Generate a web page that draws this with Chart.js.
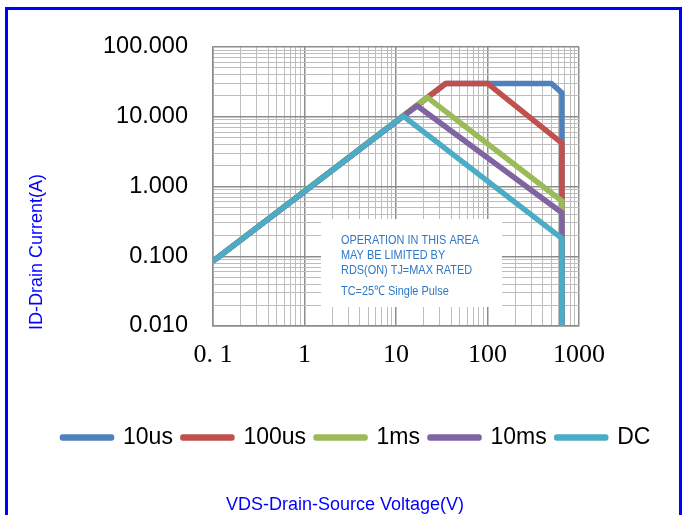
<!DOCTYPE html>
<html>
<head>
<meta charset="utf-8">
<script src="https://cdn.jsdelivr.net/npm/chart.js@4.4.1/dist/chart.umd.min.js"></script>
<style>
  html, body { margin: 0; padding: 0; width: 683px; height: 515px; overflow: hidden; background: #fff; }
  #frame { position: absolute; left: 5px; top: 7px; width: 677px; height: 600px; border: 3px solid #0000ff; box-sizing: border-box; pointer-events: none; }
  canvas { position: absolute; left: 0; top: 0; }
</style>
</head>
<body>
<canvas id="soaChart" width="683" height="515"></canvas>
<div id="frame"></div>
<script>
// Safe operating area, log-log
const seriesNames = ['10us', '100us', '1ms', '10ms', 'DC'];
const seriesColors = ['#4F81BD', '#C0504D', '#9BBB59', '#8064A2', '#4BACC6'];

const vds10us  = [0.1, 35, 500, 650, 650];
const id10us   = [0.085, 30, 30, 22, 0.01];
const vds100us = [0.1, 35, 100, 650, 650];
const id100us  = [0.085, 30, 30, 4.2, 0.01];
const vds1ms   = [0.1, 22, 650, 650];
const id1ms    = [0.085, 19, 0.62, 0.01];
const vds10ms  = [0.1, 17, 650, 650];
const id10ms   = [0.085, 14.4, 0.42, 0.01];
const vdsDC    = [0.1, 12, 650, 650];
const idDC     = [0.085, 10.2, 0.18, 0.01];

const xTickValues = [0.1, 1, 10, 100, 1000];
const xTickLabels = ['0. 1', '1', '10', '100', '1000'];
const yTickValues = [0.01, 0.1, 1, 10, 100];
const yTickLabels = ['0.010', '0.100', '1.000', '10.000', '100.000'];

const noteLines = ['OPERATION IN THIS AREA', 'MAY BE LIMITED BY', 'RDS(ON) TJ=MAX RATED', 'TC=25\u2103 Single Pulse'];

const xs = [vds10us, vds100us, vds1ms, vds10ms, vdsDC];
const ys = [id10us, id100us, id1ms, id10ms, idDC];

function toPoints(xv, yv) {
  return xv.map((x, i) => ({ x: x, y: yv[i] }));
}

// 1..9 x 10^n ticks, like the excel minor grid
function logTicks(majors) {
  const out = [];
  for (let k = 0; k < majors.length - 1; k++) {
    for (let m = 1; m < 10; m++) {
      out.push({ value: parseFloat((majors[k] * m).toPrecision(4)) });
    }
  }
  out.push({ value: majors[majors.length - 1] });
  return out;
}

function isMajor(v, majors) {
  return majors.some(m => Math.abs(v - m) / m < 1e-6);
}

const datasets = seriesNames.map((name, i) => ({
  label: name,
  data: toPoints(xs[i], ys[i]),
  borderColor: seriesColors[i],
  backgroundColor: seriesColors[i],
  borderWidth: 5.5,
  borderJoinStyle: 'round',
  pointRadius: 0,
  tension: 0,
  clip: 0,
  order: seriesNames.length - i   // DC drawn on top
}));

const extraText = {
  id: 'extraText',
  beforeDatasetsDraw(chart) {
    const ctx = chart.ctx;
    const a = chart.chartArea;
    const bx = a.left + 108, by = a.top + 172;
    ctx.save();
    ctx.fillStyle = '#ffffff';
    ctx.fillRect(bx, by, 181, 88);
    ctx.fillStyle = '#2e78c6';
    ctx.font = '13px "Liberation Sans", sans-serif';
    ctx.textBaseline = 'alphabetic';
    ctx.textAlign = 'left';
    const baselines = [196.5, 211.5, 226.5, 247.5];
    ctx.translate(bx + 20, a.top);
    ctx.scale(0.84, 1);   // narrow the text like the original
    noteLines.forEach((t, i) => ctx.fillText(t, 0, baselines[i]));
    ctx.restore();
  },
  afterDraw(chart) {
    const ctx = chart.ctx;
    ctx.save();
    ctx.fillStyle = '#0000ff';
    ctx.font = '18px "Liberation Sans", Arial, sans-serif';
    ctx.textAlign = 'center';
    ctx.textBaseline = 'middle';
    ctx.fillText('VDS-Drain-Source Voltage(V)', 345, 505);
    ctx.translate(37, 252);
    ctx.rotate(-Math.PI / 2);
    ctx.fillText('ID-Drain Current(A)', 0, 0);
    ctx.restore();
  }
};

new Chart(document.getElementById('soaChart'), {
  type: 'line',
  data: { datasets: datasets },
  plugins: [extraText],
  options: {
    responsive: false,
    animation: false,
    layout: { padding: { left: 30, right: 0, top: 47, bottom: 56 } },
    plugins: {
      tooltip: { enabled: false },
      legend: {
        position: 'bottom',
        labels: {
          font: { family: '"Liberation Sans", Arial, sans-serif', size: 23 },
          color: '#000000',
          boxWidth: 49,
          boxHeight: 1,
          padding: 10,
          sort: (a, b) => a.datasetIndex - b.datasetIndex
        }
      }
    },
    scales: {
      x: {
        type: 'logarithmic',
        min: 0.1,
        max: 1000,
        afterBuildTicks: s => { s.ticks = logTicks(xTickValues); },
        afterFit: s => { s.height = 90; },
        grid: {
          drawTicks: false,
          color: c => (c.tick && isMajor(c.tick.value, xTickValues)) ? '#8c8c8c' : '#bdbdbd',
          lineWidth: c => (c.tick && isMajor(c.tick.value, xTickValues)) ? 1.5 : 1
        },
        border: { color: '#8c8c8c', width: 1.5 },
        ticks: {
          autoSkip: false,
          maxRotation: 0,
          minRotation: 0,
          padding: 14,
          color: '#000000',
          font: { family: '"Liberation Serif", "Times New Roman", serif', size: 26 },
          callback: v => {
            const k = xTickValues.findIndex(m => Math.abs(v - m) / m < 1e-6);
            return k >= 0 ? xTickLabels[k] : '';
          }
        }
      },
      y: {
        type: 'logarithmic',
        min: 0.01,
        max: 100,
        afterBuildTicks: s => { s.ticks = logTicks(yTickValues); },
        afterFit: s => { s.width = 183; },
        grid: {
          drawTicks: false,
          color: c => (c.tick && isMajor(c.tick.value, yTickValues)) ? '#8c8c8c' : '#bdbdbd',
          lineWidth: c => (c.tick && isMajor(c.tick.value, yTickValues)) ? 1.5 : 1
        },
        border: { color: '#8c8c8c', width: 1.5 },
        ticks: {
          autoSkip: false,
          padding: 25,
          color: '#000000',
          font: { family: '"Liberation Sans", Arial, sans-serif', size: 23.5 },
          callback: v => {
            const k = yTickValues.findIndex(m => Math.abs(v - m) / m < 1e-6);
            return k >= 0 ? yTickLabels[k] : '';
          }
        }
      },
      // spacer on the right so the legend can stay wide
      yRight: {
        type: 'linear',
        position: 'right',
        grid: { display: false },
        border: { display: false },
        ticks: { display: false },
        afterFit: s => { s.width = 104; }
      }
    }
  }
});
</script>
</body>
</html>
